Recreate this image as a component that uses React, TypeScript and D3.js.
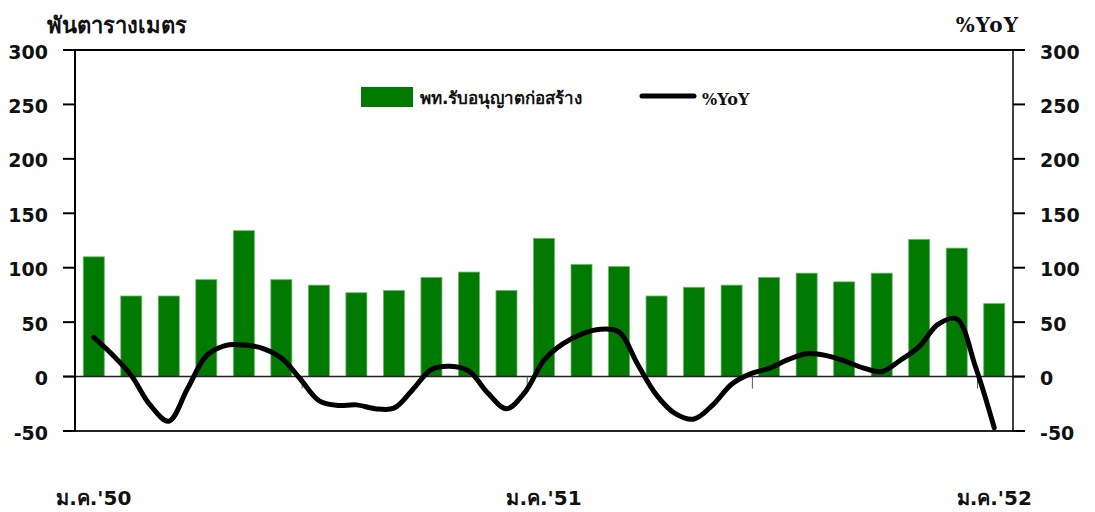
import React from "react";
import * as d3 from "d3";

const months = [
  "ม.ค.'50","ก.พ.'50","มี.ค.'50","เม.ย.'50","พ.ค.'50","มิ.ย.'50","ก.ค.'50","ส.ค.'50","ก.ย.'50","ต.ค.'50","พ.ย.'50","ธ.ค.'50",
  "ม.ค.'51","ก.พ.'51","มี.ค.'51","เม.ย.'51","พ.ค.'51","มิ.ย.'51","ก.ค.'51","ส.ค.'51","ก.ย.'51","ต.ค.'51","พ.ย.'51","ธ.ค.'51",
  "ม.ค.'52",
];
const areaValues = [110, 74, 74, 89, 134, 89, 84, 77, 79, 91, 96, 79, 127, 103, 101, 74, 82, 84, 91, 95, 87, 95, 126, 118, 67];
// %YoY read at half-month steps
const yoyValues = [
  36, 20, 1, -26, -41, -11, 19, 28.5, 29, 26, 17, -2, -22, -26.5, -26, -29.5, -29,
  -12, 6.5, 9.5, 5, -15, -29.5, -14, 15, 30, 39, 43.5, 41, 11, -17, -34, -39, -26,
  -7, 2.5, 7.5, 15.5, 21, 19.5, 14.5, 8, 4.5, 15, 27.5, 48, 53, 9, -47,
];
const yTicks = [300, 250, 200, 150, 100, 50, 0, -50];
const xLabelIdx = [0, 12, 24];
const xMinorTickBoundaries = [6, 12, 18, 24];

const barName = "พท.รับอนุญาตก่อสร้าง";
const lineName = "%YoY";
const leftUnit = "พันตารางเมตร";
const rightUnit = "%YoY";

export default function App() {
  const W = 1095, H = 512;
  const left = 75, right = 1013, top = 50, bottom = 431;
  const y = d3.scaleLinear().domain([-50, 300]).range([bottom, top]);
  const x = d3.scaleBand<string>().domain(months).range([left, right]).paddingInner(0.44).paddingOuter(0.22);
  const bw = x.bandwidth();
  const step = x.step();
  const c0 = (x(months[0]) as number) + bw / 2;
  const cN = (x(months[months.length - 1]) as number) + bw / 2;
  const xl = d3.scaleLinear().domain([0, yoyValues.length - 1]).range([c0, cN]);
  const line = d3.line<number>().x((_, i) => xl(i)).y((d) => y(d)).curve(d3.curveCatmullRom.alpha(0.5));
  const numFont = "'DejaVu Sans', 'Liberation Sans', sans-serif";
  const thaiFont = "'DejaVu Sans', 'Liberation Sans', sans-serif";
  const serifFont = "'DejaVu Serif', 'Liberation Serif', serif";
  const y0 = y(0);
  return (
    <svg width={W} height={H} style={{ position: "absolute", left: 0, top: 0, background: "#fff" }}>
      {/* bars */}
      {areaValues.map((v, i) => (
        <rect key={i} x={x(months[i])} y={y(v)} width={bw} height={y0 - y(v)} fill="#007a00" stroke="#6fb36f" strokeWidth={0.8} />
      ))}
      {/* frame lines */}
      <line x1={63} x2={1025} y1={y(300)} y2={y(300)} stroke="#000" strokeWidth={2} />
      <line x1={63} x2={1025} y1={y(-50)} y2={y(-50)} stroke="#222" strokeWidth={2} />
      <line x1={63} x2={1025} y1={y0} y2={y0} stroke="#222" strokeWidth={1.5} />
      <line x1={left} x2={left} y1={top} y2={bottom} stroke="#000" strokeWidth={2} />
      <line x1={right} x2={right} y1={top} y2={bottom} stroke="#000" strokeWidth={1.5} />
      {yTicks.map((t) => (
        <g key={t}>
          <line x1={63} x2={left} y1={y(t)} y2={y(t)} stroke="#000" strokeWidth={2} />
          <line x1={right} x2={1025} y1={y(t)} y2={y(t)} stroke="#000" strokeWidth={2} />
          <text x={48} y={y(t) + 1.5} textAnchor="end" dominantBaseline="central" fontFamily={numFont} fontWeight="bold" fontSize={19} fill="#111">{t}</text>
          <text x={1040} y={y(t) + 1.5} textAnchor="start" dominantBaseline="central" fontFamily={numFont} fontWeight="bold" fontSize={19} fill="#111">{t}</text>
        </g>
      ))}
      {xMinorTickBoundaries.map((b) => (
        <line key={b} x1={left + b * step + 2} x2={left + b * step + 2} y1={y0} y2={y0 + 12} stroke="#555" strokeWidth={1} />
      ))}
      {/* line */}
      <path d={line(yoyValues) || ""} fill="none" stroke="#000" strokeWidth={5} strokeLinejoin="round" strokeLinecap="round" />
      {/* x labels */}
      {xLabelIdx.map((i) => (
        <text key={i} x={(x(months[i]) as number) + bw / 2} y={498} textAnchor="middle" dominantBaseline="central" fontFamily={thaiFont} fontWeight="bold" fontSize={20} fill="#111">{months[i]}</text>
      ))}
      {/* units */}
      <text x={47} y={25} dominantBaseline="central" fontFamily={thaiFont} fontWeight="bold" fontSize={22} fill="#111">{leftUnit}</text>
      <text x={1019} y={25} textAnchor="end" dominantBaseline="central" fontFamily={serifFont} fontWeight="bold" fontSize={20} letterSpacing={1} fill="#111">{rightUnit}</text>
      {/* legend */}
      <rect x={361} y={87} width={52} height={20} fill="#007a00" />
      <text x={420} y={98} dominantBaseline="central" fontFamily={thaiFont} fontWeight="bold" fontSize={17} fill="#111">{barName}</text>
      <line x1={642} x2={694} y1={96} y2={96} stroke="#000" strokeWidth={5} strokeLinecap="round" />
      <text x={702} y={99} dominantBaseline="central" fontFamily={serifFont} fontWeight="bold" fontSize={16} fill="#111">{lineName}</text>
    </svg>
  );
}
